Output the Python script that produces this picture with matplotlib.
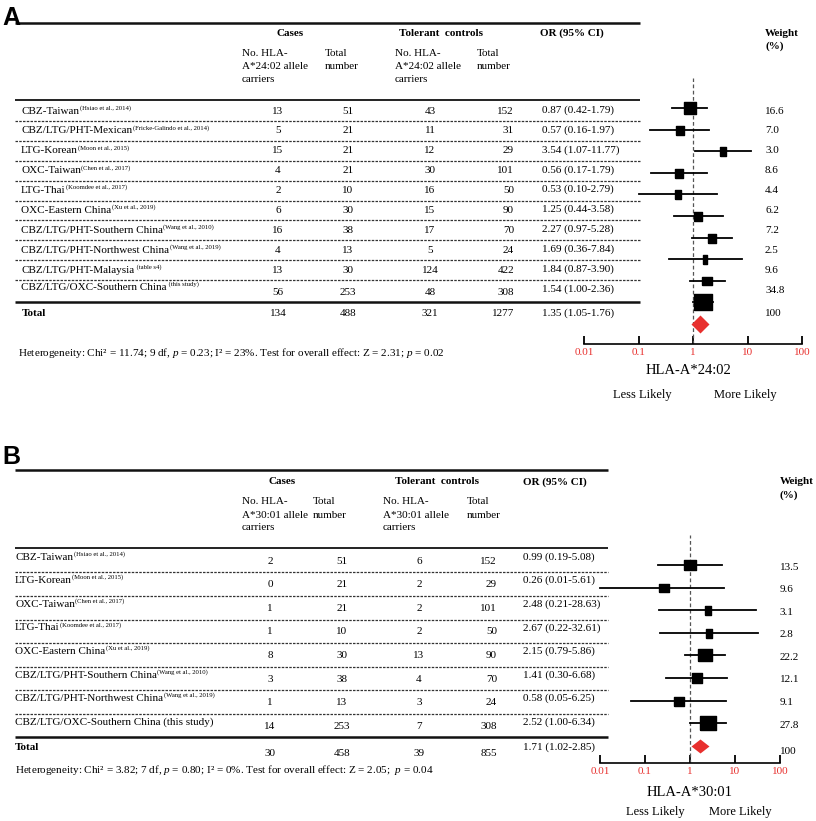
import matplotlib
matplotlib.use("Agg")
import matplotlib.pyplot as plt
import numpy as np
from matplotlib.ticker import NullLocator

plt.rcParams['font.family'] = ['Liberation Serif', 'DejaVu Serif']
plt.rcParams['mathtext.fontset'] = 'custom'
plt.rcParams['mathtext.rm'] = 'Liberation Serif'
plt.rcParams['mathtext.it'] = 'Liberation Serif:italic'

# ---------------- data: panel A (HLA-A*24:02) ----------------
studies_A = ["CBZ-Taiwan", "CBZ/LTG/PHT-Mexican", "LTG-Korean", "OXC-Taiwan", "LTG-Thai",
             "OXC-Eastern China", "CBZ/LTG/PHT-Southern China", "CBZ/LTG/PHT-Northwest China",
             "CBZ/LTG/PHT-Malaysia", "CBZ/LTG/OXC-Southern China"]
refs_A = ["(Hsiao et al., 2014)", "(Fricke-Galindo et al., 2014)", "(Moon et al., 2015)",
          "(Chen et al., 2017)", "(Koomdee et al., 2017)", "(Xu et al., 2019)",
          "(Wang et al., 2010)", "(Wang et al., 2019)", " (table s4)", " (this study)"]
cases_carriers_A = [13, 5, 15, 4, 2, 6, 16, 4, 13, 56]
cases_total_A = [51, 21, 21, 21, 10, 30, 38, 13, 30, 253]
ctrl_carriers_A = [43, 11, 12, 30, 16, 15, 17, 5, 124, 48]
ctrl_total_A = [152, 31, 29, 101, 50, 90, 70, 24, 422, 308]
or_A = [0.87, 0.57, 3.54, 0.56, 0.53, 1.25, 2.27, 1.69, 1.84, 1.54]
lo_A = [0.42, 0.16, 1.07, 0.17, 0.10, 0.44, 0.97, 0.36, 0.87, 1.00]
hi_A = [1.79, 1.97, 11.77, 1.79, 2.79, 3.58, 5.28, 7.84, 3.90, 2.36]
weight_A = [16.6, 7.0, 3.0, 8.6, 4.4, 6.2, 7.2, 2.5, 9.6, 34.8]
total_A = [134, 488, 321, 1277]
total_or_A = [1.35, 1.05, 1.76]
het_A = ("Heterogeneity: Chi² = 11.74; 9 df, $p$ = 0.23; I² = 23%. "
         "Test for overall effect: Z = 2.31; $p$ = 0.02")
allele_A = "HLA-A*24:02"

# ---------------- data: panel B (HLA-A*30:01) ----------------
studies_B = ["CBZ-Taiwan", "LTG-Korean", "OXC-Taiwan", "LTG-Thai", "OXC-Eastern China",
             "CBZ/LTG/PHT-Southern China", "CBZ/LTG/PHT-Northwest China",
             "CBZ/LTG/OXC-Southern China (this study)"]
refs_B = ["(Hsiao et al., 2014)", "(Moon et al., 2015)", "(Chen et al., 2017)",
          "(Koomdee et al., 2017)", "(Xu et al., 2019)", "(Wang et al., 2010)",
          "(Wang et al., 2019)", ""]
cases_carriers_B = [2, 0, 1, 1, 8, 3, 1, 14]
cases_total_B = [51, 21, 21, 10, 30, 38, 13, 253]
ctrl_carriers_B = [6, 2, 2, 2, 13, 4, 3, 7]
ctrl_total_B = [152, 29, 101, 50, 90, 70, 24, 308]
or_B = [0.99, 0.26, 2.48, 2.67, 2.15, 1.41, 0.58, 2.52]
lo_B = [0.19, 0.01, 0.21, 0.22, 0.79, 0.30, 0.05, 1.00]
hi_B = [5.08, 5.61, 28.63, 32.61, 5.86, 6.68, 6.25, 6.34]
weight_B = [13.5, 9.6, 3.1, 2.8, 22.2, 12.1, 9.1, 27.8]
total_B = [30, 458, 39, 855]
total_or_B = [1.71, 1.02, 2.85]
het_B = ("Heterogeneity: Chi² = 3.82; 7 df, $p$ = 0.80; I² = 0%. "
         "Test for overall effect: Z = 2.05;  $p$ = 0.04")
allele_B = "HLA-A*30:01"

tick_vals = [0.01, 0.1, 1, 10, 100]
tick_labels = ["0.01", "0.1", "1", "10", "100"]

# ---------------- figure ----------------
W, H = 816, 821
fig = plt.figure(figsize=(W / 100, H / 100), dpi=100)
ax0 = fig.add_axes([0, 0, 1, 1])
ax0.set_xlim(0, W)
ax0.set_ylim(H, 0)
ax0.axis('off')
renderer = fig.canvas.get_renderer()

FS = 8
RED = '#e8302e'
DASH = (0, (2, 1))


def txt(x, y, s, ha='left', va='center', fontsize=FS, **kw):
    return ax0.text(x, y, s, ha=ha, va=va, fontsize=fontsize, **kw)


def label_with_ref(x, y, label, ref):
    t = txt(x, y, label)
    if ref:
        bb = t.get_window_extent(renderer)
        x1 = ax0.transData.inverted().transform((bb.x1, bb.y1))[0]
        txt(x1 + 0.5, y - 3, ref, fontsize=4.8)


def hline(y, x0, x1, lw=1.0, ls='-', color='#111111'):
    ax0.plot([x0, x1], [y, y], lw=lw, ls=ls, color=color, solid_capstyle='butt')


def rect_marker(wt):
    w = 3.0 * np.sqrt(wt)
    h = max(w * 0.9, 9.0)
    verts = [(-w / 2, -h / 2), (w / 2, -h / 2), (w / 2, h / 2), (-w / 2, h / 2), (-w / 2, -h / 2)]
    return verts, max(w, h) * 0.72


def forest(px, ors, los, his, wts, tot_or, row0, drow, dia_w, dia_h, fs_tick=8):
    x0, x1, ytop, ybot = px
    ax = fig.add_axes([x0 / W, 1 - ybot / H, (x1 - x0) / W, (ybot - ytop) / H])
    ax.set_facecolor('none')
    ax.set_xscale('log')
    ax.set_xlim(0.01, 100)
    # rows are indices; axis limits map them to layout
    ax.set_ylim((ybot - row0) / drow, (ytop - row0) / drow)
    ax.axvline(1, color='#555555', ls=(0, (3, 2)), lw=0.9)
    for i, (o, l, h, wt) in enumerate(zip(ors, los, his, wts)):
        ax.plot([l, h], [i, i], color='black', lw=1.3, clip_on=False)
        verts, ms = rect_marker(wt)
        ax.plot([o], [i], marker=verts, ms=ms, color='black', ls='none', clip_on=False)
    n = len(ors)
    dverts = [(-dia_w / 2, 0), (0, dia_h / 2), (dia_w / 2, 0), (0, -dia_h / 2), (-dia_w / 2, 0)]
    ax.plot([tot_or[0]], [n], marker=dverts, ms=max(dia_w, dia_h) * 0.72, color=RED,
            mew=0, ls='none', clip_on=False)
    for s in ['top', 'left', 'right']:
        ax.spines[s].set_visible(False)
    ax.spines['bottom'].set_linewidth(1.2)
    ax.set_yticks([])
    ax.set_xticks(tick_vals)
    ax.set_xticklabels(tick_labels)
    ax.xaxis.set_minor_locator(NullLocator())
    ax.tick_params(axis='x', direction='in', length=6, width=1.3, color='black',
                   labelcolor=RED, labelsize=fs_tick, pad=3)
    return ax


# ================= Panel A =================
txt(2, 18, "A", fontsize=18, fontweight='bold', family=['Liberation Sans', 'DejaVu Sans'])
hline(23, 15, 640, lw=1.8)
txt(290, 33, "Cases", ha='center', fontweight='bold')
txt(441, 33, "Tolerant  controls", ha='center', fontweight='bold')
txt(540, 33, "OR (95% CI)", fontweight='bold')
txt(765, 33, "Weight", fontweight='bold')
txt(765, 46, "(%)", fontweight='bold')
for x, lines in [(242, ["No. HLA-", "A*24:02 allele", "carriers"]), (325, ["Total", "number"]),
                 (395, ["No. HLA-", "A*24:02 allele", "carriers"]), (477, ["Total", "number"])]:
    for k, s in enumerate(lines):
        txt(x, 53 + 13.5 * k, s)
hline(100, 15, 640, lw=1.3)

rowA0, drowA = 111, 19.9
for i in range(len(studies_A)):
    y = rowA0 + drowA * i
    yl = y - (3 if i == len(studies_A) - 1 else 0)
    yn = y + (2 if i == len(studies_A) - 1 else 0)
    label_with_ref(21, yl, studies_A[i], refs_A[i])
    txt(278, yn, str(cases_carriers_A[i]), ha='center')
    txt(348, yn, str(cases_total_A[i]), ha='center')
    txt(430, yn, str(ctrl_carriers_A[i]), ha='center')
    txt(514, yn, str(ctrl_total_A[i]), ha='right')
    txt(542, y - 1, f"{or_A[i]:.2f} ({lo_A[i]:.2f}-{hi_A[i]:.2f})")
    txt(765, y, f"{weight_A[i]:.1f}")
    if i < len(studies_A) - 1:
        hline(y + 10, 15, 640, lw=0.9, ls=DASH, color='#333333')
hline(302, 15, 640, lw=1.8)
ytA = 313
txt(22, ytA, "Total", fontweight='bold')
txt(278, ytA, str(total_A[0]), ha='center')
txt(348, ytA, str(total_A[1]), ha='center')
txt(430, ytA, str(total_A[2]), ha='center')
txt(514, ytA, str(total_A[3]), ha='right')
txt(542, ytA, f"{total_or_A[0]:.2f} ({total_or_A[1]:.2f}-{total_or_A[2]:.2f})")
txt(765, ytA, "100")
txt(18, 353, het_A)

forest((584, 802, 78, 344), or_A, lo_A, hi_A, weight_A, total_or_A, 108, 21.6, 18, 18)
txt(688, 371, allele_A, ha='center', fontsize=10.5)
txt(642, 395, "Less Likely", ha='center', fontsize=9)
txt(745, 395, "More Likely", ha='center', fontsize=9)

# ================= Panel B =================
txt(2, 457, "B", fontsize=18, fontweight='bold', family=['Liberation Sans', 'DejaVu Sans'])
hline(470, 15, 608, lw=1.8)
txt(282, 482, "Cases", ha='center', fontweight='bold')
txt(437, 482, "Tolerant  controls", ha='center', fontweight='bold')
txt(523, 482, "OR (95% CI)", fontweight='bold')
txt(780, 482, "Weight", fontweight='bold')
txt(780, 495, "(%)", fontweight='bold')
for x, lines in [(242, ["No. HLA-", "A*30:01 allele", "carriers"]), (313, ["Total", "number"]),
                 (383, ["No. HLA-", "A*30:01 allele", "carriers"]), (467, ["Total", "number"])]:
    for k, s in enumerate(lines):
        txt(x, 502 + 13 * k, s)
hline(548, 15, 608, lw=1.3)

rowB0, drowB = 557, 23.6
for i in range(len(studies_B)):
    y = rowB0 + drowB * i
    label_with_ref(15, y, studies_B[i], refs_B[i])
    txt(270, y + 4, str(cases_carriers_B[i]), ha='center')
    txt(342, y + 4, str(cases_total_B[i]), ha='center')
    txt(419, y + 4, str(ctrl_carriers_B[i]), ha='center')
    txt(497, y + 4, str(ctrl_total_B[i]), ha='right')
    txt(523, y, f"{or_B[i]:.2f} ({lo_B[i]:.2f}-{hi_B[i]:.2f})")
    txt(780, 567 + 22.6 * i, f"{weight_B[i]:.1f}")
    if i < len(studies_B) - 1:
        hline(y + 15.5, 15, 608, lw=0.9, ls=DASH, color='#333333')
hline(737, 15, 608, lw=1.8)
txt(15, 747, "Total", fontweight='bold')
txt(270, 754, str(total_B[0]), ha='center')
txt(342, 754, str(total_B[1]), ha='center')
txt(419, 754, str(total_B[2]), ha='center')
txt(497, 754, str(total_B[3]), ha='right')
txt(523, 747, f"{total_or_B[0]:.2f} ({total_or_B[1]:.2f}-{total_or_B[2]:.2f})")
txt(780, 752, "100")
txt(15, 770, het_B)

forest((600, 780, 535, 763), or_B, lo_B, hi_B, weight_B, total_or_B, 565, 22.6, 18, 14)
txt(690, 793, allele_B, ha='center', fontsize=10.5)
txt(655, 812, "Less Likely", ha='center', fontsize=9)
txt(740, 812, "More Likely", ha='center', fontsize=9)

fig.savefig("out.png", dpi=100)
